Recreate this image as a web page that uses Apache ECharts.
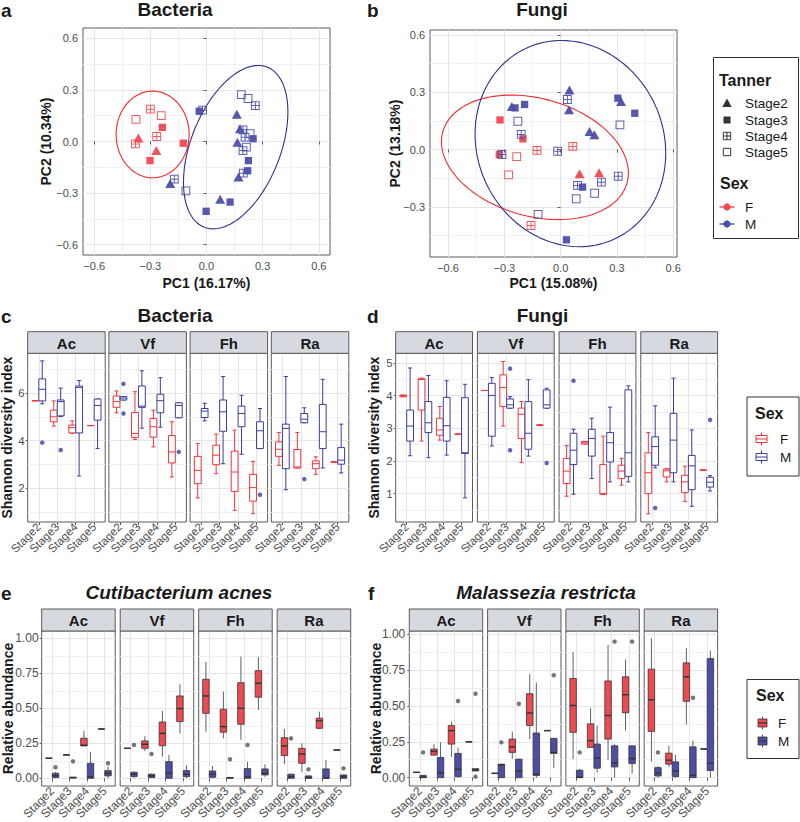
<!DOCTYPE html>
<html>
<head>
<meta charset="utf-8">
<script src="https://cdn.jsdelivr.net/npm/echarts@6/dist/echarts.min.js"></script>
<style>html,body{margin:0;padding:0;background:#fff}#chart{width:800px;height:822px}</style>
</head>
<body>
<div id="chart"></div>
<script>
// ---------------- DATA ----------------
const stages = ['Stage2', 'Stage3', 'Stage4', 'Stage5'];
const sites = ['Ac', 'Vf', 'Fh', 'Ra'];
const sexes = ['F', 'M'];

const pcoaTicks = [-0.6, -0.3, 0, 0.3, 0.6];
const pcoaMinorTicks = [-0.45, -0.15, 0.15, 0.45];
const shannonBactTicks = [2, 4, 6];
const shannonBactMinor = [1, 3, 5, 7];
const shannonFungTicks = [1, 2, 3, 4, 5];
const shannonFungMinor = [0.5, 1.5, 2.5, 3.5, 4.5];
const abundTicks = [0, 0.25, 0.5, 0.75, 1];
const abundMinor = [0.125, 0.375, 0.625, 0.875];

// PCoA points: [PC1, PC2, Tanner stage]
const bactPcoaF = [
  [-0.377, 0.129, 'Stage5'], [-0.300, 0.188, 'Stage4'], [-0.242, 0.150, 'Stage5'],
  [-0.236, 0.082, 'Stage3'], [-0.364, 0.020, 'Stage2'], [-0.380, -0.014, 'Stage4'],
  [-0.266, 0.029, 'Stage4'], [-0.268, -0.053, 'Stage2'], [-0.302, -0.111, 'Stage3'],
  [-0.124, -0.010, 'Stage3']
];
const bactPcoaM = [
  [-0.039, 0.176, 'Stage3'], [-0.021, 0.182, 'Stage4'], [0.186, 0.273, 'Stage5'],
  [0.222, 0.250, 'Stage5'], [0.261, 0.209, 'Stage4'], [0.162, 0.158, 'Stage2'],
  [0.179, 0.074, 'Stage2'], [0.195, 0.068, 'Stage4'], [0.233, 0.045, 'Stage5'],
  [0.206, 0.025, 'Stage4'], [0.249, 0.016, 'Stage3'], [0.165, -0.004, 'Stage2'],
  [0.213, -0.033, 'Stage5'], [0.195, -0.053, 'Stage4'], [0.224, -0.111, 'Stage3'],
  [0.220, -0.170, 'Stage3'], [0.197, -0.184, 'Stage4'], [0.171, -0.207, 'Stage2'],
  [-0.172, -0.219, 'Stage4'], [-0.194, -0.244, 'Stage2'], [-0.110, -0.287, 'Stage5'],
  [0.073, -0.336, 'Stage2'], [0.126, -0.352, 'Stage3'], [-0.002, -0.406, 'Stage3']
];
const fungPcoaF = [
  [-0.323, 0.155, 'Stage3'], [-0.201, 0.056, 'Stage3'], [-0.327, -0.026, 'Stage3'],
  [-0.234, -0.037, 'Stage5'], [-0.126, -0.005, 'Stage4'], [0.065, 0.016, 'Stage4'],
  [-0.277, -0.133, 'Stage5'], [0.101, -0.127, 'Stage2'], [0.205, -0.122, 'Stage2'],
  [-0.158, -0.398, 'Stage4']
];
const fungPcoaM = [
  [0.047, 0.312, 'Stage2'], [0.036, 0.262, 'Stage4'], [0.045, 0.208, 'Stage2'],
  [-0.260, 0.225, 'Stage2'], [-0.243, 0.218, 'Stage3'], [-0.192, 0.236, 'Stage3'],
  [-0.228, 0.148, 'Stage5'], [-0.210, 0.079, 'Stage4'], [-0.313, -0.026, 'Stage4'],
  [-0.016, -0.009, 'Stage4'], [0.305, 0.269, 'Stage3'], [0.322, 0.251, 'Stage2'],
  [0.395, 0.190, 'Stage3'], [0.316, 0.129, 'Stage5'], [0.154, 0.094, 'Stage2'],
  [0.180, 0.077, 'Stage2'], [0.307, -0.140, 'Stage4'], [0.217, -0.171, 'Stage4'],
  [0.090, -0.188, 'Stage4'], [0.117, -0.197, 'Stage3'], [0.083, -0.258, 'Stage5'],
  [0.181, -0.229, 'Stage5'], [-0.120, -0.340, 'Stage5'], [0.031, -0.473, 'Stage3']
];

// confidence ellipses: [centerX, centerY, ax, ay, by]
const bactEllipseF = [-0.288, 0.041, 0.195, 0.0, 0.252];
const bactEllipseM = [0.156, -0.033, 0.279, 0.205, 0.4285];
const fungEllipseF = [-0.137, -0.041, 0.498, -0.082, 0.3156];
const fungEllipseM = [0.052, 0.031, 0.508, -0.050, 0.5377];

// Boxplots: [site, stage, lowerWhisker, Q1, median, Q3, upperWhisker]
const bactShannonF = [
  ['Ac','Stage2',5.69,5.69,5.69,5.69,5.69], ['Ac','Stage3',4.62,4.80,5.01,5.29,5.68],
  ['Ac','Stage4',4.31,4.33,4.55,4.66,4.84], ['Ac','Stage5',4.64,4.64,4.64,4.64,4.64],
  ['Vf','Stage2',5.18,5.41,5.65,5.89,6.10], ['Vf','Stage3',4.05,4.14,4.31,5.19,6.07],
  ['Vf','Stage4',3.74,4.15,4.59,4.94,5.29], ['Vf','Stage5',2.47,3.06,3.53,4.22,4.80],
  ['Fh','Stage2',1.59,2.19,2.75,3.34,3.88], ['Fh','Stage3',2.61,2.99,3.39,3.81,4.28],
  ['Fh','Stage4',1.06,1.86,2.68,3.56,4.45], ['Fh','Stage5',0.92,1.45,2.02,2.58,3.13],
  ['Ra','Stage2',2.96,3.34,3.64,3.95,4.35], ['Ra','Stage3',2.85,2.85,2.89,3.63,4.35],
  ['Ra','Stage4',2.58,2.82,3.03,3.15,3.32], ['Ra','Stage5',3.10,3.10,3.10,3.10,3.10]
];
const bactShannonM = [
  ['Ac','Stage2',5.56,5.68,6.17,6.61,7.37], ['Ac','Stage3',5.02,5.05,5.65,5.72,6.22],
  ['Ac','Stage4',2.51,4.33,6.25,6.31,6.54], ['Ac','Stage5',3.67,4.87,5.49,5.76,5.76],
  ['Vf','Stage2',5.72,5.72,5.80,5.86,5.86], ['Vf','Stage3',4.53,5.41,5.46,6.31,6.95],
  ['Vf','Stage4',4.57,5.18,5.69,5.96,6.66], ['Vf','Stage5',4.97,4.97,5.49,5.60,5.60],
  ['Fh','Stage2',4.84,4.98,5.25,5.36,5.58], ['Fh','Stage3',3.03,4.40,5.22,5.72,6.71],
  ['Fh','Stage4',3.43,4.59,5.15,5.46,5.92], ['Fh','Stage5',3.67,3.67,4.42,4.80,5.36],
  ['Ra','Stage2',1.93,2.82,4.52,4.70,6.71], ['Ra','Stage3',4.76,4.76,4.91,5.15,5.39],
  ['Ra','Stage4',2.85,3.67,4.38,5.53,6.59], ['Ra','Stage5',2.64,3.01,3.18,3.71,4.70]
];
const bactShannonOutF = [];
const bactShannonOutM = [
  ['Ac','Stage2',3.92], ['Ac','Stage3',3.61], ['Vf','Stage2',6.40], ['Vf','Stage2',5.15],
  ['Vf','Stage5',3.53], ['Fh','Stage5',1.72], ['Ra','Stage3',2.38]
];

const fungShannonF = [
  ['Ac','Stage2',3.97,3.97,4.00,4.02,4.02], ['Ac','Stage3',2.61,3.56,4.50,4.52,4.54],
  ['Ac','Stage4',2.64,2.79,2.95,3.31,3.67], ['Ac','Stage5',2.82,2.82,2.82,2.82,2.82],
  ['Vf','Stage2',4.16,4.16,4.16,4.16,4.16], ['Vf','Stage3',3.07,3.67,4.25,4.64,5.05],
  ['Vf','Stage4',1.95,2.69,3.43,3.62,3.82], ['Vf','Stage5',3.10,3.10,3.10,3.10,3.10],
  ['Fh','Stage2',0.92,1.31,1.69,2.08,2.47], ['Fh','Stage3',2.52,2.52,2.56,2.60,2.60],
  ['Fh','Stage4',0.98,0.98,1.00,1.89,2.76], ['Fh','Stage5',1.26,1.46,1.69,1.87,2.08],
  ['Ra','Stage2',0.38,1.00,1.64,2.25,2.87], ['Ra','Stage3',1.36,1.51,1.70,1.75,1.77],
  ['Ra','Stage4',0.76,1.03,1.36,1.56,1.84], ['Ra','Stage5',1.72,1.72,1.72,1.72,1.72]
];
const fungShannonM = [
  ['Ac','Stage2',2.16,2.61,3.07,3.56,4.85], ['Ac','Stage3',2.10,2.87,3.17,3.82,4.62],
  ['Ac','Stage4',2.18,2.61,3.08,3.95,4.46], ['Ac','Stage5',0.87,2.23,2.25,3.94,4.35],
  ['Vf','Stage2',2.46,2.76,4.01,4.38,4.56], ['Vf','Stage3',3.62,3.62,3.72,3.90,3.97],
  ['Vf','Stage4',2.15,2.36,2.85,3.82,4.49], ['Vf','Stage5',3.62,3.62,3.72,4.18,4.23],
  ['Fh','Stage2',0.98,1.89,2.33,2.85,2.97], ['Fh','Stage3',1.46,2.15,2.69,2.97,3.31],
  ['Fh','Stage4',1.36,1.97,2.56,2.87,3.65], ['Fh','Stage5',1.36,1.53,2.25,4.18,4.30],
  ['Ra','Stage2',1.79,1.87,2.44,2.74,3.69], ['Ra','Stage3',1.36,1.64,2.64,3.46,4.54],
  ['Ra','Stage4',0.61,1.12,1.85,2.17,2.95], ['Ra','Stage5',1.08,1.20,1.35,1.50,1.55]
];
const fungShannonOutF = [];
const fungShannonOutM = [
  ['Vf','Stage3',4.83], ['Vf','Stage3',2.33], ['Vf','Stage5',1.94], ['Fh','Stage2',4.46],
  ['Ra','Stage2',0.56], ['Ra','Stage5',3.26]
];

const acnesF = [
  ['Ac','Stage2',0.143,0.143,0.143,0.143,0.143], ['Ac','Stage3',0.167,0.167,0.167,0.167,0.167],
  ['Ac','Stage4',0.231,0.231,0.236,0.286,0.338], ['Ac','Stage5',0.352,0.352,0.352,0.352,0.352],
  ['Vf','Stage2',0.214,0.214,0.214,0.214,0.214], ['Vf','Stage3',0.195,0.214,0.243,0.267,0.302],
  ['Vf','Stage4',0.155,0.233,0.321,0.402,0.481], ['Vf','Stage5',0.321,0.405,0.498,0.588,0.671],
  ['Fh','Stage2',0.333,0.464,0.588,0.707,0.831], ['Fh','Stage3',0.286,0.329,0.369,0.493,0.619],
  ['Fh','Stage4',0.274,0.386,0.500,0.683,0.869], ['Fh','Stage5',0.488,0.579,0.679,0.769,0.864],
  ['Ra','Stage2',0.100,0.162,0.231,0.290,0.352], ['Ra','Stage3',0.043,0.107,0.174,0.214,0.250],
  ['Ra','Stage4',0.350,0.357,0.410,0.429,0.476], ['Ra','Stage5',0.202,0.202,0.202,0.202,0.202]
];
const acnesM = [
  ['Ac','Stage2',0.000,0.005,0.019,0.036,0.045], ['Ac','Stage3',0.000,0.002,0.005,0.008,0.010],
  ['Ac','Stage4',0.000,0.000,0.012,0.107,0.190], ['Ac','Stage5',0.000,0.017,0.036,0.055,0.083],
  ['Vf','Stage2',0.005,0.012,0.029,0.043,0.050], ['Vf','Stage3',0.002,0.005,0.017,0.029,0.035],
  ['Vf','Stage4',0.000,0.000,0.036,0.119,0.167], ['Vf','Stage5',0.000,0.012,0.029,0.055,0.093],
  ['Fh','Stage2',0.000,0.007,0.029,0.052,0.088], ['Fh','Stage3',0.000,0.001,0.003,0.006,0.008],
  ['Fh','Stage4',0.000,0.000,0.010,0.069,0.117], ['Fh','Stage5',0.010,0.024,0.036,0.067,0.100],
  ['Ra','Stage2',0.000,0.000,0.012,0.029,0.035], ['Ra','Stage3',0.000,0.000,0.005,0.017,0.020],
  ['Ra','Stage4',0.000,0.000,0.002,0.067,0.131], ['Ra','Stage5',0.000,0.000,0.012,0.024,0.028]
];
const acnesOutF = [];
const acnesOutM = [
  ['Ac','Stage2',0.079], ['Ac','Stage3',0.121], ['Ac','Stage5',0.107], ['Vf','Stage2',0.238],
  ['Vf','Stage3',0.174], ['Fh','Stage3',0.136], ['Fh','Stage4',0.238], ['Ra','Stage2',0.285],
  ['Ra','Stage3',0.064], ['Ra','Stage5',0.071]
];

const restrictaF = [
  ['Ac','Stage2',0.037,0.037,0.037,0.037,0.037], ['Ac','Stage3',0.157,0.157,0.183,0.199,0.234],
  ['Ac','Stage4',0.145,0.234,0.328,0.363,0.391], ['Ac','Stage5',0.250,0.250,0.250,0.250,0.250],
  ['Vf','Stage2',0.030,0.030,0.030,0.030,0.030], ['Vf','Stage3',0.133,0.176,0.215,0.269,0.321],
  ['Vf','Stage4',0.269,0.363,0.450,0.585,0.721], ['Vf','Stage5',0.328,0.328,0.328,0.328,0.328],
  ['Fh','Stage2',0.129,0.316,0.503,0.691,0.874], ['Fh','Stage3',0.211,0.211,0.258,0.375,0.485],
  ['Fh','Stage4',0.122,0.269,0.433,0.674,0.925], ['Fh','Stage5',0.328,0.452,0.578,0.703,0.824],
  ['Ra','Stage2',0.112,0.323,0.543,0.756,0.972], ['Ra','Stage3',0.075,0.094,0.122,0.171,0.222],
  ['Ra','Stage4',0.370,0.532,0.703,0.800,0.902], ['Ra','Stage5',0.200,0.200,0.200,0.200,0.200]
];
const restrictaM = [
  ['Ac','Stage2',0.000,0.000,0.003,0.016,0.016], ['Ac','Stage3',0.000,0.000,0.035,0.141,0.246],
  ['Ac','Stage4',0.000,0.007,0.059,0.169,0.211], ['Ac','Stage5',0.047,0.047,0.052,0.063,0.063],
  ['Vf','Stage2',0.000,0.000,0.090,0.094,0.094], ['Vf','Stage3',0.000,0.000,0.047,0.129,0.133],
  ['Vf','Stage4',0.000,0.016,0.023,0.311,0.663], ['Vf','Stage5',0.066,0.169,0.176,0.274,0.274],
  ['Fh','Stage2',0.000,0.000,0.003,0.052,0.060], ['Fh','Stage3',0.035,0.066,0.136,0.234,0.363],
  ['Fh','Stage4',0.000,0.075,0.101,0.222,0.234], ['Fh','Stage5',0.028,0.098,0.133,0.222,0.222],
  ['Ra','Stage2',0.000,0.012,0.030,0.070,0.082], ['Ra','Stage3',0.000,0.007,0.047,0.110,0.159],
  ['Ra','Stage4',0.000,0.000,0.016,0.215,0.258], ['Ra','Stage5',0.000,0.050,0.100,0.830,0.885]
];
const restrictaOutF = [];
const restrictaOutM = [
  ['Ac','Stage2',0.176], ['Ac','Stage4',0.534], ['Ac','Stage5',0.585], ['Ac','Stage5',0.007],
  ['Vf','Stage2',0.246], ['Vf','Stage3',0.515], ['Vf','Stage5',0.714], ['Fh','Stage2',0.176],
  ['Fh','Stage4',0.948], ['Fh','Stage5',0.948], ['Ra','Stage2',0.176], ['Ra','Stage4',0.557]
];

// ---------------- STYLE ----------------
const FONT = '"Liberation Sans", Arial, Helvetica, sans-serif';
const RED = '#EE4A50', BLUE = '#4D4FA6';
const RED_LINE = '#EE2A30', BLUE_LINE = '#2E3190';
const RED_BOX = '#F0353B', BLUE_BOX = '#3A3E9E';
const BORDER = '#5a5a5a';
const GRID_MAJOR = '#e3e5eb';
const GRID_MINOR = '#f1f2f6';
const LABEL = '#4d4d4d';
const TITLE = '#1a1a1a';
const STRIP = '#d6d9df';
const DODGE = 0.1875, BOX_W = 0.37;
const stagePos = stages.map((s, i) => i + 1);

function fmtSigned(v) { return (v < -1e-9 ? '\u2212' : '') + Math.abs(v).toFixed(1); }
function fmtInt(v) { return String(Math.round(v)); }
function fmt2(v) { return v.toFixed(2); }

const grids = [], xAxes = [], yAxes = [], series = [], graphics = [];

function txt(x, y, text, font, align, fill) {
  graphics.push({type: 'text', x: x, y: y, z: 50, silent: true,
    style: {text: text, font: font, fill: fill || TITLE, align: align || 'left', verticalAlign: 'middle',
            textAlign: align || 'left', textVerticalAlign: 'middle'}});
}
function ellipsePoints(e) {
  const pts = [];
  for (let i = 0; i <= 144; i++) {
    const t = 2 * Math.PI * i / 144;
    pts.push([e[0] + e[2] * Math.cos(t), e[1] + e[3] * Math.cos(t) + e[4] * Math.sin(t)]);
  }
  return pts;
}

const CROSS_SQ = 'path://M0,0L10,0L10,10L0,10Z M5,0L5,10 M0,5L10,5';
const stageShapes = {
  Stage2: {symbol: 'triangle', size: [10, 9], hollow: false},
  Stage3: {symbol: 'rect', size: 7.3, hollow: false},
  Stage4: {symbol: CROSS_SQ, size: 7.8, hollow: true},
  Stage5: {symbol: 'rect', size: 7.8, hollow: true}
};

// ---------------- PCoA PANELS ----------------
const pcoaPanels = [
  {left: 83, top: 28, width: 247, height: 227, xmin: -0.66, xmax: 0.66, ymin: -0.66, ymax: 0.66,
   F: bactPcoaF, M: bactPcoaM, eF: bactEllipseF, eM: bactEllipseM,
   xname: 'PC1 (16.17%)', yname: 'PC2 (10.34%)', xGap: 21, yGap: 30},
  {left: 430, top: 30, width: 247, height: 227, xmin: -0.696, xmax: 0.62, ymin: -0.563, ymax: 0.626,
   F: fungPcoaF, M: fungPcoaM, eF: fungEllipseF, eM: fungEllipseM,
   xname: 'PC1 (15.08%)', yname: 'PC2 (13.18%)', xGap: 19, yGap: 28}
];
const axisNameStyle = {fontFamily: FONT, fontWeight: 'bold', fontSize: 14, color: TITLE};

pcoaPanels.forEach(p => {
  const gi = grids.length;
  grids.push({left: p.left, top: p.top, width: p.width, height: p.height, show: true,
    borderColor: BORDER, borderWidth: 1, backgroundColor: '#fff', containLabel: false, outerBoundsMode: 'none'});
  const xi = xAxes.length, yi = yAxes.length;
  xAxes.push({type: 'value', gridIndex: gi, position: 'bottom', min: p.xmin, max: p.xmax,
    name: p.xname, nameLocation: 'middle', nameGap: p.xGap, nameMoveOverlap: false, nameTextStyle: axisNameStyle,
    axisLine: {show: false},
    axisTick: {show: true, length: 3, lineStyle: {color: BORDER}, customValues: pcoaTicks},
    axisLabel: {customValues: pcoaTicks, formatter: fmtSigned, color: LABEL, fontSize: 11, fontFamily: FONT, margin: 5},
    splitLine: {show: true, lineStyle: {color: GRID_MAJOR, width: 1}}});
  xAxes.push({type: 'value', gridIndex: gi, position: 'top', min: p.xmin, max: p.xmax,
    axisLine: {show: false}, axisTick: {show: false, customValues: pcoaMinorTicks},
    axisLabel: {show: false, customValues: pcoaMinorTicks},
    splitLine: {show: true, lineStyle: {color: GRID_MINOR, width: 1}}});
  yAxes.push({type: 'value', gridIndex: gi, position: 'left', min: p.ymin, max: p.ymax,
    name: p.yname, nameLocation: 'middle', nameGap: p.yGap, nameMoveOverlap: false, nameTextStyle: axisNameStyle,
    axisLine: {show: false},
    axisTick: {show: true, length: 3, lineStyle: {color: BORDER}, customValues: pcoaTicks},
    axisLabel: {customValues: pcoaTicks, formatter: fmtSigned, color: LABEL, fontSize: 11, fontFamily: FONT, margin: 5},
    splitLine: {show: true, lineStyle: {color: GRID_MAJOR, width: 1}}});
  yAxes.push({type: 'value', gridIndex: gi, position: 'right', min: p.ymin, max: p.ymax,
    axisLine: {show: false}, axisTick: {show: false, customValues: pcoaMinorTicks},
    axisLabel: {show: false, customValues: pcoaMinorTicks},
    splitLine: {show: true, lineStyle: {color: GRID_MINOR, width: 1}}});
  // ellipses
  [[p.eF, RED_LINE], [p.eM, BLUE_LINE]].forEach(([e, col]) => {
    series.push({type: 'line', xAxisIndex: xi, yAxisIndex: yi, data: ellipsePoints(e), showSymbol: false,
      symbol: 'none', silent: true, z: 2, lineStyle: {color: col, width: 1.1}});
  });
  // points
  [[p.F, RED], [p.M, BLUE]].forEach(([rows, col]) => {
    stages.forEach(st => {
      const sh = stageShapes[st];
      series.push({type: 'scatter', xAxisIndex: xi, yAxisIndex: yi, z: 3, silent: true,
        data: rows.filter(r => r[2] === st).map(r => [r[0], r[1]]),
        symbol: sh.symbol, symbolSize: sh.size,
        itemStyle: sh.hollow ? {color: 'rgba(0,0,0,0)', borderColor: col, borderWidth: 1, opacity: 0.9}
                             : {color: col, borderWidth: 0, opacity: 0.95}});
    });
  });
});

// ---------------- FACETED BOXPLOT PANELS ----------------
const facetPanels = [
  {F: bactShannonF, M: bactShannonM, outF: bactShannonOutF, outM: bactShannonOutM,
   left0: 27.7, step: 81.2, width: 77.5, stripTop: 331.7, stripH: 21.6, bottom: 522,
   ymin: 0.57, ymax: 7.69, major: shannonBactTicks, minor: shannonBactMinor, fmt: fmtInt,
   yname: 'Shannon diversity index', nameGap: 14, filled: false, yMargin: 3, fs: 11.5},
  {F: fungShannonF, M: fungShannonM, outF: fungShannonOutF, outM: fungShannonOutM,
   left0: 395.7, step: 81.7, width: 76.8, stripTop: 331.7, stripH: 21.6, bottom: 522,
   ymin: 0.13, ymax: 5.30, major: shannonFungTicks, minor: shannonFungMinor, fmt: fmtInt,
   yname: 'Shannon diversity index', nameGap: 15, filled: false, yMargin: 3, fs: 11.5},
  {F: acnesF, M: acnesM, outF: acnesOutF, outM: acnesOutM,
   left0: 41.7, step: 78.5, width: 73.5, stripTop: 609, stripH: 22, bottom: 786,
   ymin: -0.055, ymax: 1.052, major: abundTicks, minor: abundMinor, fmt: fmt2,
   yname: 'Relative abundance', nameGap: 27, filled: true, yMargin: 3, fs: 12},
  {F: restrictaF, M: restrictaM, outF: restrictaOutF, outM: restrictaOutM,
   left0: 409.3, step: 78.3, width: 73.4, stripTop: 609, stripH: 22, bottom: 786,
   ymin: -0.058, ymax: 1.022, major: abundTicks, minor: abundMinor, fmt: fmt2,
   yname: 'Relative abundance', nameGap: 26, filled: true, yMargin: 4, fs: 12}
];

function makeBoxRender(dodge, st) {
  return function (params, api) {
    const x = api.value(0) + dodge;
    const lo = api.coord([x, api.value(1)]);
    const q1 = api.coord([x, api.value(2)]);
    const md = api.coord([x, api.value(3)]);
    const q3 = api.coord([x, api.value(4)]);
    const hi = api.coord([x, api.value(5)]);
    const cx = lo[0];
    const hw = api.size([BOX_W, 0])[0] / 2;
    const ch = [];
    const wStyle = {stroke: st.whisker, lineWidth: st.lw};
    if (lo[1] - q1[1] > 0.3) ch.push({type: 'line', shape: {x1: cx, y1: q1[1], x2: cx, y2: lo[1]}, style: wStyle});
    if (q3[1] - hi[1] > 0.3) ch.push({type: 'line', shape: {x1: cx, y1: q3[1], x2: cx, y2: hi[1]}, style: wStyle});
    if (st.caps) {
      const cw = hw * 0.6;
      ch.push({type: 'line', shape: {x1: cx - cw, y1: lo[1], x2: cx + cw, y2: lo[1]}, style: wStyle});
      ch.push({type: 'line', shape: {x1: cx - cw, y1: hi[1], x2: cx + cw, y2: hi[1]}, style: wStyle});
    }
    ch.push({type: 'rect', shape: {x: cx - hw, y: q3[1], width: 2 * hw, height: Math.max(q1[1] - q3[1], 0)},
      style: {fill: st.fill, stroke: st.stroke, lineWidth: st.lw}});
    ch.push({type: 'line', shape: {x1: cx - hw, y1: md[1], x2: cx + hw, y2: md[1]},
      style: {stroke: st.median, lineWidth: st.medLw}});
    return {type: 'group', children: ch};
  };
}

facetPanels.forEach(p => {
  const gridTop = p.stripTop + p.stripH;
  sites.forEach((site, s) => {
    const left = p.left0 + s * p.step;
    const gi = grids.length;
    grids.push({left: left, top: gridTop, width: p.width, height: p.bottom - gridTop, show: true,
      borderColor: BORDER, borderWidth: 1, backgroundColor: '#fff', containLabel: false, outerBoundsMode: 'none'});
    const xi = xAxes.length, yi = yAxes.length;
    xAxes.push({type: 'value', gridIndex: gi, position: 'bottom', min: 0.4, max: 4.6,
      axisLine: {show: false},
      axisTick: {show: true, length: 3, lineStyle: {color: BORDER}, customValues: stagePos},
      axisLabel: {customValues: stagePos, rotate: 45, formatter: v => stages[Math.round(v) - 1],
        color: LABEL, fontSize: p.fs, fontFamily: FONT, margin: 3},
      splitLine: {show: true, lineStyle: {color: GRID_MAJOR, width: 1}}});
    yAxes.push({type: 'value', gridIndex: gi, position: 'left', min: p.ymin, max: p.ymax,
      name: s === 0 ? p.yname : '', nameLocation: 'middle', nameGap: p.nameGap, nameMoveOverlap: false,
      nameTextStyle: axisNameStyle,
      axisLine: {show: false},
      axisTick: {show: s === 0, length: 2, lineStyle: {color: BORDER}, customValues: p.major},
      axisLabel: {show: s === 0, customValues: p.major, formatter: p.fmt, color: LABEL, fontSize: p.fs,
        fontFamily: FONT, margin: p.yMargin},
      splitLine: {show: true, lineStyle: {color: GRID_MAJOR, width: 1}}});
    yAxes.push({type: 'value', gridIndex: gi, position: 'right', min: p.ymin, max: p.ymax,
      axisLine: {show: false}, axisTick: {show: false, customValues: p.minor},
      axisLabel: {show: false, customValues: p.minor},
      splitLine: {show: true, lineStyle: {color: GRID_MINOR, width: 1}}});

    // strip
    graphics.push({type: 'rect', z: 40, silent: true,
      shape: {x: left, y: p.stripTop, width: p.width, height: p.stripH},
      style: {fill: STRIP, stroke: BORDER, lineWidth: 1}});
    txt(left + p.width / 2, p.stripTop + p.stripH / 2 + 0.5, site, 'bold 15px ' + FONT, 'center');

    const toRows = rows => rows.filter(r => r[0] === site)
      .map(r => [stages.indexOf(r[1]) + 1, r[2], r[3], r[4], r[5], r[6]]);
    [['F', p.F, p.outF, -DODGE], ['M', p.M, p.outM, DODGE]].forEach(([sex, rows, outs, dodge]) => {
      const col = sex === 'F' ? RED : BLUE;
      const lineCol = sex === 'F' ? RED_BOX : BLUE_BOX;
      const st = p.filled
        ? {fill: col, stroke: '#333', whisker: '#3a3a3a', median: '#333', lw: 0.8, medLw: 1.4, caps: false}
        : {fill: '#fff', stroke: lineCol, whisker: lineCol, median: lineCol, lw: 1, medLw: 1, caps: true};
      series.push({type: 'custom', xAxisIndex: xi, yAxisIndex: yi, z: 3, silent: true, clip: false,
        renderItem: makeBoxRender(dodge, st), encode: {x: 0, y: [1, 2, 3, 4, 5]},
        data: toRows(rows)});
      series.push({type: 'scatter', xAxisIndex: xi, yAxisIndex: yi, z: 4, silent: true,
        symbol: 'circle', symbolSize: 4.5,
        data: outs.filter(r => r[0] === site).map(r => [stages.indexOf(r[1]) + 1 + dodge, r[2]]),
        itemStyle: {color: p.filled ? '#555555' : lineCol, borderWidth: 0}});
    });
  });
});

// ---------------- TITLES ----------------
const TFONT = 'bold 19px ' + FONT;
txt(1, 10, 'a', TFONT, 'left');
txt(175, 9, 'Bacteria', TFONT, 'center');
txt(367, 10, 'b', TFONT, 'left');
txt(542, 9, 'Fungi', TFONT, 'center');
txt(1, 316, 'c', TFONT, 'left');
txt(175, 315, 'Bacteria', TFONT, 'center');
txt(367, 316, 'd', TFONT, 'left');
txt(542.5, 315, 'Fungi', TFONT, 'center');
txt(1, 593, 'e', TFONT, 'left');
txt(179, 592, 'Cutibacterium acnes', 'italic bold 19px ' + FONT, 'center');
txt(368, 593, 'f', TFONT, 'left');
txt(546, 592, 'Malassezia restricta', 'italic bold 19px ' + FONT, 'center');

// ---------------- LEGENDS ----------------
const LFONT = '13.5px ' + FONT;
const LTFONT = 'bold 16px ' + FONT;
// Tanner / Sex legend (PCoA)
graphics.push({type: 'rect', z: 40, silent: true, shape: {x: 713.5, y: 57.5, width: 85, height: 181},
  style: {fill: '#fff', stroke: '#333', lineWidth: 1}});
txt(719, 80, 'Tanner', LTFONT, 'left');
const legY = [103, 120, 136, 152];
graphics.push({type: 'polygon', z: 45, silent: true,
  shape: {points: [[727, legY[0] - 4.5], [722.3, legY[0] + 4], [731.7, legY[0] + 4]]}, style: {fill: '#333'}});
graphics.push({type: 'rect', z: 45, silent: true, shape: {x: 723.5, y: legY[1] - 3.5, width: 7, height: 7}, style: {fill: '#333'}});
graphics.push({type: 'rect', z: 45, silent: true, shape: {x: 723.3, y: legY[2] - 3.7, width: 7.4, height: 7.4}, style: {fill: 'none', stroke: '#333', lineWidth: 1}});
graphics.push({type: 'line', z: 45, silent: true, shape: {x1: 727, y1: legY[2] - 3.7, x2: 727, y2: legY[2] + 3.7}, style: {stroke: '#333', lineWidth: 1}});
graphics.push({type: 'line', z: 45, silent: true, shape: {x1: 723.3, y1: legY[2], x2: 730.7, y2: legY[2]}, style: {stroke: '#333', lineWidth: 1}});
graphics.push({type: 'rect', z: 45, silent: true, shape: {x: 723.3, y: legY[3] - 3.7, width: 7.4, height: 7.4}, style: {fill: 'none', stroke: '#333', lineWidth: 1}});
stages.forEach((st, i) => txt(745, legY[i], st, LFONT, 'left'));
txt(720, 183, 'Sex', LTFONT, 'left');
[[207, RED, RED_LINE], [224, BLUE, BLUE_LINE]].forEach(([y, c, lc], i) => {
  graphics.push({type: 'line', z: 45, silent: true, shape: {x1: 719.5, y1: y, x2: 734.5, y2: y}, style: {stroke: lc, lineWidth: 1.2}});
  graphics.push({type: 'circle', z: 46, silent: true, shape: {cx: 727, cy: y, r: 3.6}, style: {fill: c}});
  txt(745, y, sexes[i], LFONT, 'left');
});

// Sex legend for Shannon boxplots
graphics.push({type: 'rect', z: 40, silent: true, shape: {x: 747, y: 397, width: 52, height: 79},
  style: {fill: '#fff', stroke: '#333', lineWidth: 1}});
txt(755, 413, 'Sex', LTFONT, 'left');
[[439, RED_BOX], [457, BLUE_BOX]].forEach(([y, c], i) => {
  graphics.push({type: 'line', z: 45, silent: true, shape: {x1: 761.5, y1: y - 6.5, x2: 761.5, y2: y + 6.5}, style: {stroke: c, lineWidth: 1}});
  graphics.push({type: 'rect', z: 46, silent: true, shape: {x: 756, y: y - 3.5, width: 11, height: 7}, style: {fill: '#fff', stroke: c, lineWidth: 1}});
  graphics.push({type: 'line', z: 47, silent: true, shape: {x1: 756, y1: y, x2: 767, y2: y}, style: {stroke: c, lineWidth: 1}});
  txt(780, y, sexes[i], LFONT, 'left');
});

// Sex legend for relative-abundance boxplots
graphics.push({type: 'rect', z: 40, silent: true, shape: {x: 747, y: 679.5, width: 52, height: 79},
  style: {fill: '#fff', stroke: '#333', lineWidth: 1}});
txt(756, 695, 'Sex', LTFONT, 'left');
[[723, RED], [741, BLUE]].forEach(([y, c], i) => {
  graphics.push({type: 'line', z: 45, silent: true, shape: {x1: 762.5, y1: y - 6.5, x2: 762.5, y2: y + 6.5}, style: {stroke: '#333', lineWidth: 0.8}});
  graphics.push({type: 'rect', z: 46, silent: true, shape: {x: 758, y: y - 4, width: 9, height: 8}, style: {fill: c, stroke: '#333', lineWidth: 0.8}});
  graphics.push({type: 'line', z: 47, silent: true, shape: {x1: 758, y1: y, x2: 767, y2: y}, style: {stroke: '#333', lineWidth: 1.2}});
  txt(778, y, sexes[i], LFONT, 'left');
});

// ---------------- RENDER ----------------
const chart = echarts.init(document.getElementById('chart'), null, {renderer: 'svg', width: 800, height: 822});
chart.setOption({
  animation: false,
  backgroundColor: '#ffffff',
  textStyle: {fontFamily: FONT},
  grid: grids,
  xAxis: xAxes,
  yAxis: yAxes,
  series: series,
  graphic: {elements: graphics}
});
</script>
</body>
</html>
